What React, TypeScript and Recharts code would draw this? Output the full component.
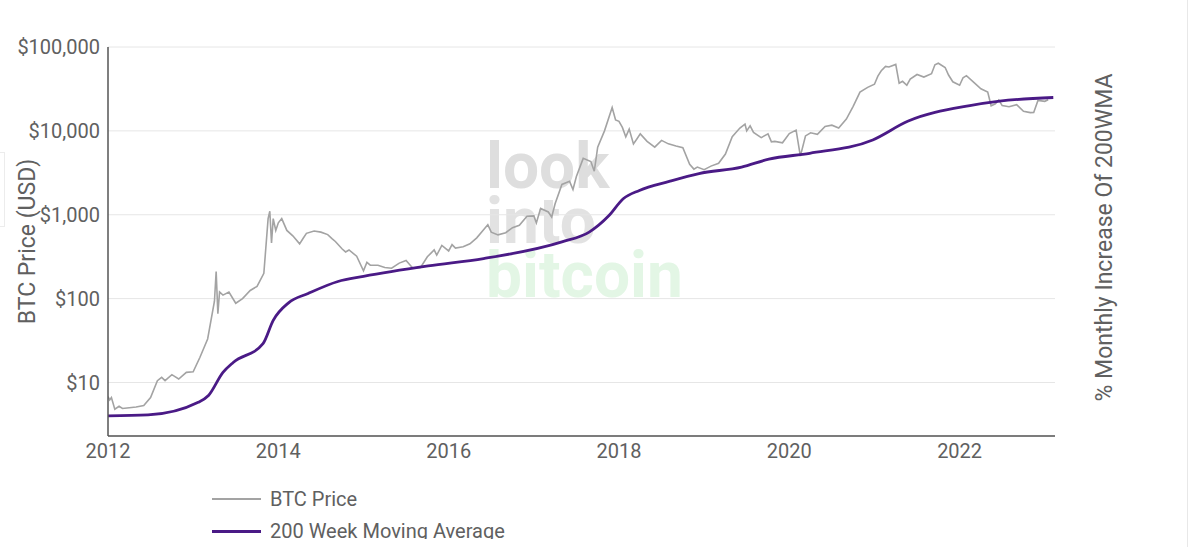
import React from 'react';
import { LineChart, Line, XAxis, YAxis, CartesianGrid } from 'recharts';

// BTC price, sampled roughly monthly (extra points around the big swings)
const btcDates = [
  2012.0, 2012.02, 2012.04, 2012.08, 2012.13, 2012.17, 2012.25, 2012.33, 2012.42, 2012.5, 2012.58, 2012.63, 2012.67,
  2012.75, 2012.83, 2012.92, 2013.0, 2013.08, 2013.17, 2013.25, 2013.27, 2013.29, 2013.31, 2013.35, 2013.42, 2013.5,
  2013.58, 2013.67, 2013.75, 2013.83, 2013.88, 2013.9, 2013.92, 2013.94, 2013.97, 2014.0, 2014.04, 2014.1, 2014.17,
  2014.25, 2014.29, 2014.33, 2014.42, 2014.5, 2014.58, 2014.63, 2014.67, 2014.75, 2014.79, 2014.83, 2014.92, 2015.0,
  2015.04, 2015.08, 2015.17, 2015.25, 2015.33, 2015.42, 2015.5, 2015.58, 2015.67, 2015.75, 2015.83, 2015.86, 2015.92,
  2016.0, 2016.04, 2016.08, 2016.17, 2016.25, 2016.33, 2016.42, 2016.46, 2016.5, 2016.58, 2016.67, 2016.75, 2016.83,
  2016.92, 2017.0, 2017.03, 2017.08, 2017.17, 2017.21, 2017.25, 2017.33, 2017.42, 2017.46, 2017.5, 2017.58, 2017.67,
  2017.71, 2017.75, 2017.83, 2017.92, 2017.96, 2018.0, 2018.04, 2018.08, 2018.12, 2018.17, 2018.21, 2018.25, 2018.33,
  2018.42, 2018.5, 2018.58, 2018.67, 2018.75, 2018.83, 2018.88, 2018.92, 2019.0, 2019.08, 2019.17, 2019.25, 2019.33,
  2019.42, 2019.48, 2019.5, 2019.54, 2019.58, 2019.67, 2019.75, 2019.79, 2019.83, 2019.92, 2020.0, 2020.08, 2020.13,
  2020.19, 2020.25, 2020.33, 2020.42, 2020.5, 2020.58, 2020.67, 2020.75, 2020.83, 2020.92, 2021.0, 2021.04, 2021.08,
  2021.13, 2021.17, 2021.25, 2021.29, 2021.33, 2021.38, 2021.42, 2021.5, 2021.58, 2021.67, 2021.71, 2021.75, 2021.83,
  2021.87, 2021.92, 2022.0, 2022.04, 2022.08, 2022.17, 2022.25, 2022.33, 2022.37, 2022.42, 2022.46, 2022.5, 2022.58,
  2022.67, 2022.75, 2022.83, 2022.87, 2022.92, 2023.0, 2023.04, 2023.08,
];
const btcPrices = [
  6.8, 6.2, 6.6, 4.8, 5.2, 4.9, 5.0, 5.1, 5.3, 6.6, 10.5, 11.5, 10.5,
  12.4, 11.0, 13.2, 13.4, 20, 33, 93, 210, 66, 120, 110, 120, 88,
  100, 125, 140, 200, 900, 1100, 460, 900, 650, 800, 900, 650, 560,
  450, 520, 600, 640, 620, 580, 520, 480, 390, 360, 380, 320, 215,
  270, 250, 250, 235, 230, 265, 285, 230, 235, 315, 380, 330, 430,
  370, 440, 400, 415, 450, 530, 680, 760, 620, 575, 610, 700, 750,
  960, 970, 800, 1190, 1080, 940, 1350, 2300, 2500, 2000, 2850, 4700, 4300,
  3300, 6400, 10000, 19000, 13500, 13000, 11000, 8500, 10500, 7000, 8000, 9200, 7500,
  6400, 7700, 7000, 6600, 6300, 4000, 3500, 3700, 3450, 3800, 4100, 5300, 8500,
  10800, 12000, 10000, 11500, 9600, 8300, 9200, 7400, 7500, 7200, 9300, 10200,
  5000, 8700, 9500, 9100, 11300, 11700, 10800, 13800, 19600, 29000, 33000, 36000, 45000,
  52000, 58800, 57800, 62000, 37000, 39000, 35000, 41500, 47000, 43800, 48000, 61300, 64000,
  57000, 46300, 38500, 35000, 43000, 45500, 37700, 31800, 29000, 19900, 21000, 23300, 20000,
  19400, 20500, 17100, 16500, 16600, 23100, 22500, 23500,
];

// 200 week moving average
const wmaDates = [
  2012.0, 2012.47, 2013.06, 2013.18, 2013.35, 2013.47, 2013.82, 2013.94, 2014.12, 2014.35, 2014.7, 2015.0,
  2015.76, 2016.41, 2017.33, 2017.65, 2017.88, 2018.05, 2018.24, 2018.59, 2018.94, 2019.44, 2019.76, 2020.24,
  2020.98, 2021.39, 2022.12, 2022.47, 2023.1,
];
const wmaValues = [
  4.0, 4.1, 5.8, 7, 13.2, 17.3, 29, 55, 89, 115, 160, 184,
  245, 300, 475, 620, 970, 1550, 1950, 2500, 3100, 3700, 4600, 5400,
  7800, 13000, 20000, 22600, 25000,
];

const yearTicks = [2012, 2014, 2016, 2018, 2020, 2022];
const priceTicks = [10, 100, 1000, 10000, 100000];

const btcData = btcDates.map((t, i) => ({ t, price: btcPrices[i] }));
const wmaData = wmaDates.map((t, i) => ({ t, wma: wmaValues[i] }));

const GRAY = '#a3a3a3';
const PURPLE = '#4a1a86';
const TEXT = '#606060';

const LegendRow: React.FC<{ color: string; width: number; label: string }> = ({ color, width, label }) => (
  <div style={{ display: 'flex', alignItems: 'center', height: 32 }}>
    <div style={{ width: 49, height: width, background: color, marginRight: 9 }} />
    <span style={{ fontSize: 20, color: TEXT }}>{label}</span>
  </div>
);

const App: React.FC = () => {
  return (
    <div style={{ position: 'relative', width: 1184, height: 531, fontFamily: 'Roboto, sans-serif' }}>
      {/* watermark behind the plot */}
      <svg width={1184} height={531} style={{ position: 'absolute', left: 0, top: 0 }}>
        <g fontFamily="Roboto, sans-serif" fontWeight="bold" fontSize={64}>
          <text x={478} y={180} fill="#dedede">look</text>
          <text x={478} y={235} fill="#e2e2e2">into</text>
          <text x={478} y={289} fill="#e3f6e5">bitcoin</text>
        </g>
      </svg>
      <LineChart width={1184} height={531} data={btcData} margin={{ top: 39, right: 0, bottom: 73, left: 0 }}>
        <CartesianGrid vertical={false} stroke="#e6e6e6" yAxisId="l" />
        <XAxis
          dataKey="t"
          type="number"
          domain={[2012, 2023.12]}
          ticks={yearTicks}
          allowDataOverflow
          tickLine={false}
          axisLine={{ stroke: '#555', strokeWidth: 1.5 }}
          tick={{ fill: TEXT, fontSize: 20 }}
          height={30}
        />
        <YAxis
          yAxisId="l"
          scale="log"
          domain={[2.3, 100000]}
          allowDataOverflow
          ticks={priceTicks}
          tickFormatter={(v: number) => `$${v.toLocaleString('en-US')}`}
          tickLine={false}
          axisLine={{ stroke: '#555', strokeWidth: 1.5 }}
          tick={{ fill: TEXT, fontSize: 20 }}
          width={100}
          label={{ value: 'BTC Price (USD)', angle: -90, position: 'center', dx: -31, fill: TEXT, fontSize: 23 }}
        />
        <YAxis
          yAxisId="r"
          orientation="right"
          tick={false}
          tickLine={false}
          axisLine={false}
          width={137}
          label={{ value: '% Monthly Increase Of 200WMA', angle: -90, position: 'center', dx: -20, dy: -4, fill: TEXT, fontSize: 23 }}
        />
        <Line
          yAxisId="l"
          data={btcData}
          dataKey="price"
          type="linear"
          stroke={GRAY}
          strokeWidth={1.6}
          dot={false}
          isAnimationActive={false}
        />
        <Line
          yAxisId="l"
          data={wmaData}
          dataKey="wma"
          type="monotone"
          stroke={PURPLE}
          strokeWidth={2.8}
          dot={false}
          isAnimationActive={false}
        />
      </LineChart>
      <div style={{ position: 'absolute', left: 204, top: 475 }}>
        <LegendRow color={GRAY} width={2} label="BTC Price" />
        <LegendRow color={PURPLE} width={3} label="200 Week Moving Average" />
      </div>
      {/* page chrome */}
      <div style={{ position: 'fixed', left: 1187, top: 0, width: 1, height: 547, background: '#e8e8e8' }} />
      <div style={{ position: 'fixed', left: -2, top: 152, width: 5, height: 73, border: '1px solid #ececec' }} />
    </div>
  );
};

export default App;
